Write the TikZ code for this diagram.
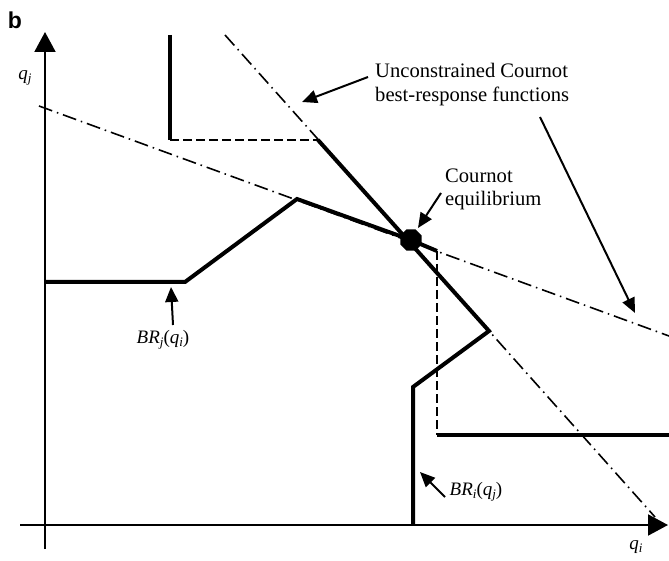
\documentclass[tikz,border=0pt]{standalone}
\usepackage{fontspec}
\setmainfont{Liberation Serif}
\setsansfont{Liberation Sans}
\usetikzlibrary{arrows.meta,shapes.geometric}
\newcommand{\mysub}[1]{\raisebox{-0.35ex}{\fontsize{13}{13}\selectfont\textit{#1}}}
\tikzset{
  axis/.style={line width=2pt,-{Triangle[length=20pt,width=21pt]}},
  thickbr/.style={line width=4pt,line join=miter,line cap=butt},
  dashbr/.style={line width=1.6pt,dash pattern=on 9pt off 4pt},
  unconstr/.style={line width=1.6pt,dash pattern=on 14pt off 5pt on 1.5pt off 5pt},
  pointer/.style={line width=2pt,-{Triangle[length=15pt,width=13pt]}},
  lbl/.style={font=\fontsize{20.6}{24}\selectfont,inner sep=0pt,align=left},
  mlbl/.style={font=\fontsize{19}{22}\selectfont,inner sep=0pt}
}
\begin{document}
\begin{tikzpicture}[x=1pt,y=-1pt]
\useasboundingbox (0,0) rectangle (669,561);
% axes
\coordinate (ybot) at (45,549);
\coordinate (ytop) at (45,32);
\coordinate (xleft) at (20,525);
\coordinate (xright) at (668,525);
\draw[axis] (ybot) -- (ytop);
\draw[axis] (xleft) -- (xright);
\node[font=\sffamily\bfseries\fontsize{23}{23}\selectfont,inner sep=0pt] (b) at (15,20) {b};
\node[mlbl] (qj) at (25,78) {\textit{q}\mysub{j}};
\node[mlbl] (qi) at (636,547) {\textit{q}\mysub{i}};
% unconstrained best responses
\coordinate (l1a) at (39,106);
\coordinate (l1b) at (669,336);
\coordinate (l2a) at (225,35);
\coordinate (l2b) at (655,517);
\draw[unconstr] (l1a) -- (l1b);
\draw[unconstr] (l2a) -- (l2b);
% BR_j
\coordinate (j1) at (45,282);
\coordinate (j2) at (185,282);
\coordinate (j3) at (297,199);
\coordinate (eq) at (411,240);
\coordinate (j4) at (437,251);
\coordinate (j5) at (437,435);
\coordinate (j6) at (669,435);
\draw[thickbr] (j1) -- (j2) -- (j3) -- (eq) -- (j4);
\draw[dashbr] (j4) -- (j5);
\draw[thickbr] (j5) -- (j6);
% BR_i
\coordinate (i1) at (170,35);
\coordinate (i2) at (170,140);
\coordinate (i3) at (318,140);
\coordinate (i4) at (489,331);
\coordinate (i5) at (413,387);
\coordinate (i6) at (413,525);
\draw[thickbr] (i1) -- (i2);
\draw[dashbr] (i2) -- (i3);
\draw[thickbr] (i3) -- (i4) -- (i5) -- (i6);
% equilibrium dot
\node[regular polygon,regular polygon sides=8,fill=black,minimum size=23pt,inner sep=0pt] (dot) at (eq) {};
% labels
\node[lbl,anchor=west] (ulabel) at (375,85) {Unconstrained Cournot\\best-response functions};
\coordinate (u1s) at (368,77);
\coordinate (u1e) at (302,102);
\coordinate (u2s) at (540,117);
\coordinate (u2e) at (635,313);
\draw[pointer] (u1s) -- (u1e);
\draw[pointer] (u2s) -- (u2e);
\node[lbl,anchor=west,font=\fontsize{20.6}{23}\selectfont] (celabel) at (445,189) {Cournot\\equilibrium};
\coordinate (ces) at (441,193);
\coordinate (cee) at (418,228);
\draw[pointer] (ces) -- (cee);
\node[mlbl] (brj) at (163,340) {\textit{BR}\mysub{j}(\textit{q}\mysub{i})};
\coordinate (brjs) at (173,325);
\coordinate (brje) at (171,287);
\draw[pointer] (brjs) -- (brje);
\node[mlbl] (bri) at (476,492) {\textit{BR}\mysub{i}(\textit{q}\mysub{j})};
\coordinate (bris) at (445,497);
\coordinate (brie) at (420,472);
\draw[pointer] (bris) -- (brie);
\end{tikzpicture}
\end{document}
